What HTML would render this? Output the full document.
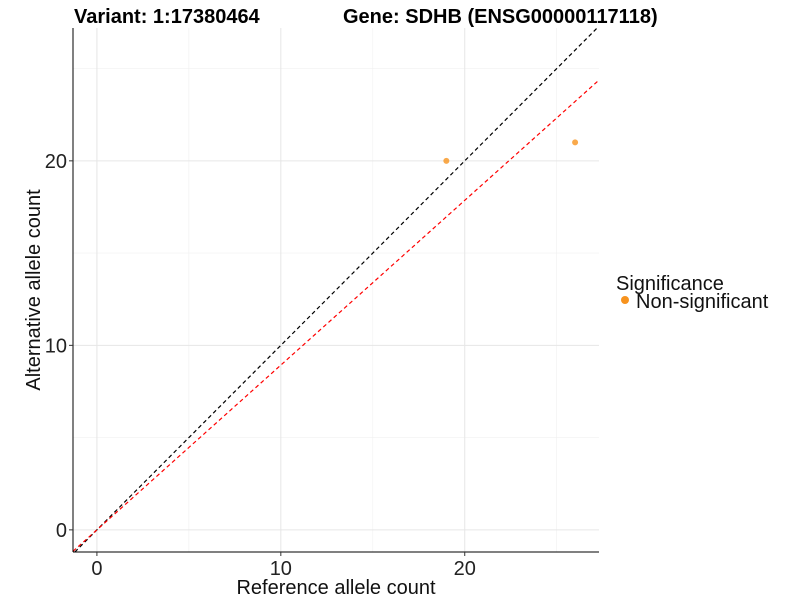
<!DOCTYPE html>
<html><head><meta charset="utf-8"><style>
body{margin:0;background:#fff;}
svg{font-family:"Liberation Sans",Arial,sans-serif;}
</style></head><body>
<svg id="chart" width="800" height="600" xmlns="http://www.w3.org/2000/svg">
<rect width="800" height="600" fill="#fff"/>
<text x="74" y="23" font-size="20" font-weight="bold">Variant: 1:17380464</text>
<text x="343" y="23" font-size="20" font-weight="bold">Gene: SDHB (ENSG00000117118)</text>
<g id="grid"></g>
<g id="lines"></g>
<g id="points"></g>
<g id="axes"></g>
<text x="336" y="594" font-size="20" text-anchor="middle" fill="#111">Reference allele count</text>
<text transform="translate(40,290) rotate(-90)" font-size="20" text-anchor="middle" fill="#111">Alternative allele count</text>
<g>
<text x="616" y="290" font-size="20" fill="#111">Significance</text>
<circle cx="625" cy="300" r="4" fill="#f7931e"/>
<text x="636" y="308" font-size="20" fill="#111">Non-significant</text>
</g>
</svg>
<script>
const refCounts=[19,26];
const altCounts=[20,21];
const xTicks=[0,10,20];
const yTicks=[0,10,20];
const minorTicks=[5,15,25];
const xMin=-1.3,xMax=27.3,yMin=-1.2,yMax=27.2;
const L=73,R=599,T=28,B=552;
const sx=v=>L+(v-xMin)/(xMax-xMin)*(R-L);
const sy=v=>B-(v-yMin)/(yMax-yMin)*(B-T);
const NS="http://www.w3.org/2000/svg";
function mk(tag,attrs,parent){const e=document.createElementNS(NS,tag);for(const k in attrs)e.setAttribute(k,attrs[k]);document.getElementById(parent).appendChild(e);return e;}
[...minorTicks,...xTicks].forEach(v=>{
 const major=xTicks.includes(v);
 const g=mk('line',{x1:sx(v),x2:sx(v),y1:T,y2:B,stroke:major?'#e6e6e6':'#f0f0f0','stroke-width':major?1:0.6},'grid');
 
 
 const h=mk('line',{x1:L,x2:R,y1:sy(v),y2:sy(v),stroke:major?'#e6e6e6':'#f0f0f0','stroke-width':major?1:0.6},'grid');
 
 
});
const x0=Math.max(xMin,yMin),x1=Math.min(xMax,yMax);
const d=mk('line',{x1:sx(x0),y1:sy(x0),x2:sx(x1),y2:sy(x1),stroke:'#000','stroke-width':1.2,'stroke-dasharray':'4,3'},'lines');


let sxy=0,sxx=0;refCounts.forEach((r,i)=>{sxy+=r*altCounts[i];sxx+=r*r;});
const slope=sxy/sxx;
const rs=Math.max(xMin,yMin/slope);
const rl=mk('line',{x1:sx(rs),y1:sy(rs*slope),x2:sx(xMax),y2:sy(xMax*slope),stroke:'#ff0000','stroke-width':1.2,'stroke-dasharray':'4,3'},'lines');


refCounts.forEach((r,i)=>{
 const c=mk('circle',{cx:sx(r),cy:sy(altCounts[i]),r:3,fill:'#f7931e','fill-opacity':0.8},'points');
 
 
});
const ax=mk('line',{x1:L,y1:T,x2:L,y2:B,stroke:'#000','stroke-width':1},'axes');


const bx=mk('line',{x1:L,y1:B,x2:R,y2:B,stroke:'#000','stroke-width':1},'axes');


xTicks.forEach(v=>{
 const t=mk('line',{x1:sx(v),x2:sx(v),y1:B,y2:B+4,stroke:'#333'},'axes');
 
 
 const l=mk('text',{x:sx(v),y:B+23,'font-size':20,'text-anchor':'middle',fill:'#222'},'axes');
 l.textContent=v;
 
 
});
yTicks.forEach(v=>{
 const t=mk('line',{x1:L-4,x2:L,y1:sy(v),y2:sy(v),stroke:'#333'},'axes');
 
 
 const l=mk('text',{x:L-6,y:sy(v)+7,'font-size':20,'text-anchor':'end',fill:'#222'},'axes');
 l.textContent=v;
 
 
});
</script>
</body></html>
